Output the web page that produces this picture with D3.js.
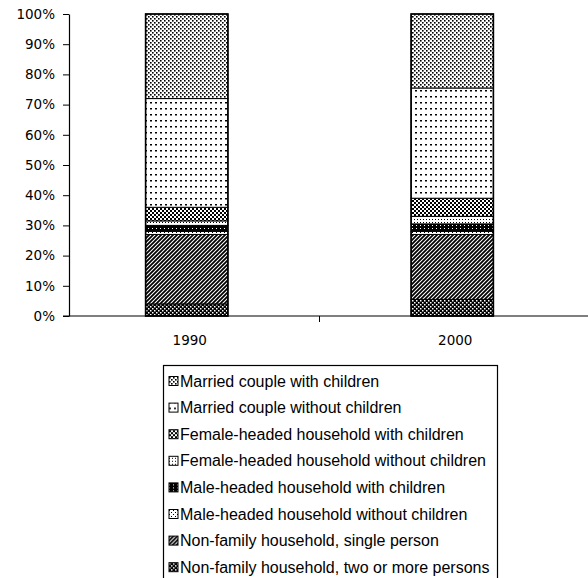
<!DOCTYPE html>
<html>
<head>
<meta charset="utf-8">
<script src="https://cdn.jsdelivr.net/npm/d3@7"></script>
<style>
  body { margin: 0; background: #fff; }
  svg { display: block; }
  .axis text { font-family: "DejaVu Sans", sans-serif; font-size: 13.5px; fill: #000; }
  .legend text { font-family: "Liberation Sans", Arial, sans-serif; font-size: 16px; fill: #000; }
</style>
</head>
<body>
<svg id="chart" width="588" height="578"></svg>
<script>
// Household composition shares (percent), stacked bottom to top
const years = ["1990", "2000"];
const seriesNames = [
  "Non-family household, two or more persons",
  "Non-family household, single person",
  "Male-headed household without children",
  "Male-headed household with children",
  "Female-headed household without children",
  "Female-headed household with children",
  "Married couple without children",
  "Married couple with children"
];
const values1990 = [4, 23, 1, 2, 1.5, 4.5, 36, 28];
const values2000 = [5.5, 21.5, 1, 2.5, 2.5, 6, 36.5, 24.5];
const yTicks = [0, 10, 20, 30, 40, 50, 60, 70, 80, 90, 100];
// Legend lists series top-of-stack first
const legendOrder = [
  "Married couple with children",
  "Married couple without children",
  "Female-headed household with children",
  "Female-headed household without children",
  "Male-headed household with children",
  "Male-headed household without children",
  "Non-family household, single person",
  "Non-family household, two or more persons"
];

const svg = d3.select("#chart");
const defs = svg.append("defs");

// Monochrome fill patterns, one per series
function pattern(id, size, bg, draw) {
  const p = defs.append("pattern").attr("id", id)
    .attr("patternUnits", "userSpaceOnUse")
    .attr("width", size[0]).attr("height", size[1]);
  p.append("rect").attr("width", size[0]).attr("height", size[1]).attr("fill", bg);
  draw(p);
}
function px(p, pts, w, h, c) {
  pts.forEach(([x, y]) => p.append("rect").attr("x", x).attr("y", y)
    .attr("width", w).attr("height", h).attr("fill", c || "#000"));
}
pattern("p-mwc", [4, 4], "#fff", p => px(p, [[0, 0], [2, 2]], 1.6, 1.6));
pattern("p-mwo", [5, 6], "#fff", p => px(p, [[0, 0]], 2, 1.5));
pattern("p-fwc", [4, 4], "#fff", p => px(p, [[0, 0], [2, 2]], 2, 2));
pattern("p-fwo", [3, 3], "#fff", p => px(p, [[0, 0]], 1, 1));
pattern("p-hwc", [4, 3], "#000", p => px(p, [[0, 0]], 1, 1, "#fff"));
pattern("p-hwo", [4, 4], "#fff", p => px(p, [[0, 0], [2, 2]], 1, 1));
pattern("p-nfs", [4, 4], "#fff", p => {
  p.append("path").attr("d", "M-1,5 L5,-1 M-1,1 L1,-1 M3,5 L5,3")
    .attr("stroke", "#000").attr("stroke-width", 1.8);
});
pattern("p-nft", [4, 4], "#000", p => px(p, [[0, 0], [2, 2]], 1.5, 1.5, "#fff"));

const fills = {
  "Married couple with children": "url(#p-mwc)",
  "Married couple without children": "url(#p-mwo)",
  "Female-headed household with children": "url(#p-fwc)",
  "Female-headed household without children": "url(#p-fwo)",
  "Male-headed household with children": "url(#p-hwc)",
  "Male-headed household without children": "url(#p-hwo)",
  "Non-family household, single person": "url(#p-nfs)",
  "Non-family household, two or more persons": "url(#p-nft)"
};

const rows = years.map((yr, i) => {
  const vals = i === 0 ? values1990 : values2000;
  const r = { year: yr };
  seriesNames.forEach((s, j) => r[s] = vals[j]);
  return r;
});
const stacked = d3.stack().keys(seriesNames)(rows);

const x = d3.scaleBand().domain(years).range([54, 585])
  .paddingInner(0.69).paddingOuter(0.345);
const y = d3.scaleLinear().domain([0, 100]).range([316, 14]);

// Bars
svg.append("g").selectAll("g").data(stacked).join("g")
  .attr("fill", d => fills[d.key])
  .selectAll("rect").data(d => d).join("rect")
  .attr("x", d => x(d.data.year))
  .attr("width", x.bandwidth())
  .attr("y", d => y(d[1]))
  .attr("height", d => y(d[0]) - y(d[1]))
  .attr("stroke", "#000").attr("stroke-width", 1);

// Outline of each whole bar
svg.append("g").selectAll("rect").data(years).join("rect")
  .attr("x", d => x(d)).attr("width", x.bandwidth())
  .attr("y", y(100)).attr("height", y(0) - y(100))
  .attr("fill", "none").attr("stroke", "#000").attr("stroke-width", 1.6);

// Y axis
const yAxis = svg.append("g").attr("class", "axis")
  .attr("transform", "translate(69,0)")
  .call(d3.axisLeft(y).tickValues(yTicks).tickFormat(d => d + "%")
    .tickSize(6).tickPadding(8).tickSizeOuter(0));
yAxis.select(".domain").attr("stroke", "#000").attr("stroke-width", 1.2);
yAxis.selectAll(".tick line").attr("stroke", "#000");

// X axis line with category boundary tick
const xAxis = svg.append("g").attr("class", "axis");
xAxis.append("line").attr("x1", 63).attr("x2", 588)
  .attr("y1", y(0)).attr("y2", y(0)).attr("stroke", "#000").attr("stroke-width", 1.2);
const boundary = x(years[1]) - x.step() * x.paddingInner() / 2;
xAxis.append("line")
  .attr("x1", boundary).attr("x2", boundary)
  .attr("y1", y(0)).attr("y2", y(0) + 6).attr("stroke", "#000");
xAxis.selectAll("text.cat").data(years).join("text").attr("class", "cat")
  .attr("x", d => x(d) + x.bandwidth() / 2 + 3)
  .attr("y", 345)
  .attr("text-anchor", "middle")
  .text(d => d);

// Legend
const lg = svg.append("g").attr("class", "legend");
lg.append("rect").attr("x", 163.5).attr("y", 365.5).attr("width", 334).attr("height", 220)
  .attr("fill", "#fff").attr("stroke", "#000").attr("stroke-width", 1.2);
const item = lg.selectAll("g.item").data(legendOrder).join("g").attr("class", "item")
  .attr("transform", (d, i) => `translate(169,${381 + i * 26.6})`);
item.append("rect").attr("x", 0).attr("y", -4.5).attr("width", 9).attr("height", 9)
  .attr("fill", d => fills[d]).attr("stroke", "#000").attr("stroke-width", 1);
item.append("text").attr("x", 11).attr("y", 5.5).text(d => d);
</script>
</body>
</html>
